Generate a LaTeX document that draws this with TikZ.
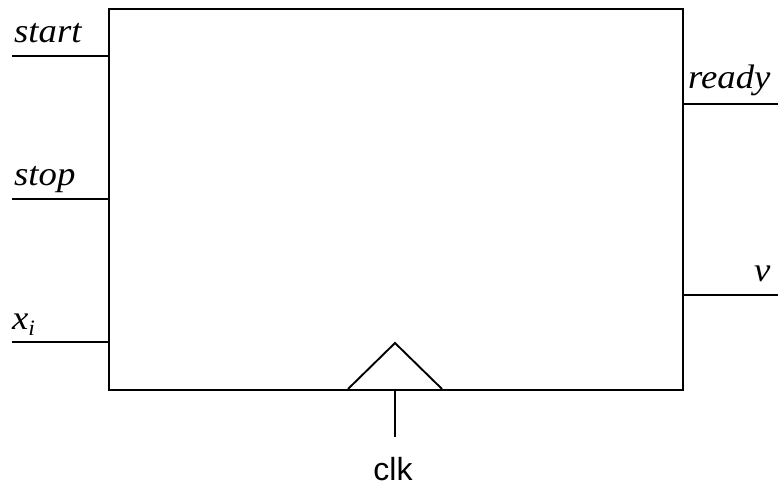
\documentclass[tikz,border=0pt]{standalone}
\usepackage{fontspec}
\setmainfont{Liberation Serif}
\setsansfont{Liberation Sans}
\begin{document}
\begin{tikzpicture}[x=1pt,y=-1pt,
  wire/.style={line width=1.9pt},
  sig/.style={anchor=base west,inner sep=0pt,font=\fontsize{34}{36}\selectfont\itshape},
  clklbl/.style={anchor=base,inner sep=0pt,font=\fontsize{32}{34}\selectfont\sffamily}]
\useasboundingbox (0,0) rectangle (778,486);
% block body
\node[draw,wire,minimum width=574pt,minimum height=381pt,inner sep=0pt,anchor=north west] (blk) at (108,8) {};
% input pins
\coordinate (inA) at (12,56);
\coordinate (inB) at (12,199);
\coordinate (inC) at (12,342);
\draw[wire] (inA) -- (inA -| blk.west);
\draw[wire] (inB) -- (inB -| blk.west);
\draw[wire] (inC) -- (inC -| blk.west);
\node[sig] (lstart) at (14,43) {\scalebox{1.08}[1]{start}};
\node[sig] (lstop) at (14,186) {\scalebox{1.08}[1]{stop}};
\node[sig] (lx) at (12,329) {\scalebox{1.08}[1]{x\raisebox{-0.18em}{\fontsize{22}{24}\selectfont i}}};
% output pins
\coordinate (outA) at (778,104);
\coordinate (outB) at (778,295);
\draw[wire] (outA -| blk.east) -- (outA);
\draw[wire] (outB -| blk.east) -- (outB);
\node[sig] (lready) at (688,89) {\scalebox{1.08}[1]{ready}};
\node[sig] (lv) at (754,281) {\scalebox{1.08}[1]{v}};
% clock input
\coordinate (tl) at (348,389);
\coordinate (tr) at (442,389);
\coordinate (tp) at (395,343);
\draw[wire,line join=miter] (tl) -- (tp) -- (tr);
\coordinate (ck) at (395,389);
\coordinate (ckend) at (395,437);
\draw[wire] (ck) -- (ckend);
\node[clklbl] (lclk) at (393,480) {clk};
\end{tikzpicture}
\end{document}
